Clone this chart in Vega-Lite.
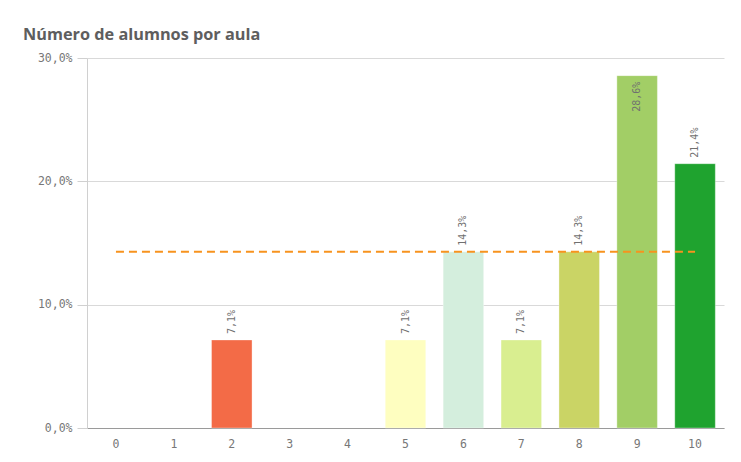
{
  "$schema": "https://vega.github.io/schema/vega-lite/v6.json",
  "width": 637,
  "height": 370,
  "autosize": {"type": "none"},
  "padding": {"left": 87, "top": 58, "right": 17, "bottom": 34},
  "background": "white",
  "config": {
    "view": {"stroke": null},
    "locale": {"number": {"decimal": ",", "thousands": ".", "grouping": [3], "currency": ["", " €"]}}
  },
  "title": {
    "text": "Número de alumnos por aula",
    "anchor": "start",
    "frame": "group",
    "dx": -64,
    "offset": 9,
    "font": "Open Sans",
    "fontSize": 16.3,
    "fontWeight": "bold",
    "color": "#5e5e5e"
  },
  "datasets": {
    "main": [
      {"n": 0, "pct": 0},
      {"n": 1, "pct": 0},
      {"n": 2, "pct": 0.0714},
      {"n": 3, "pct": 0},
      {"n": 4, "pct": 0},
      {"n": 5, "pct": 0.0714},
      {"n": 6, "pct": 0.1429},
      {"n": 7, "pct": 0.0714},
      {"n": 8, "pct": 0.1429},
      {"n": 9, "pct": 0.2857},
      {"n": 10, "pct": 0.2143}
    ],
    "ref": [{"n": 0, "n2": 10, "pct": 0.1429}]
  },
  "layer": [
    {
      "data": {"name": "main"},
      "transform": [{"filter": "datum.pct > 0"}],
      "mark": {"type": "bar", "stroke": "white", "strokeOpacity": 0.35, "strokeWidth": 1},
      "encoding": {
        "x": {
          "field": "n", "type": "ordinal",
          "scale": {"domain": [0, 1, 2, 3, 4, 5, 6, 7, 8, 9, 10], "paddingInner": 0.3, "paddingOuter": 0.15},
          "axis": {
            "title": null, "labelAngle": 0, "ticks": false, "labelPadding": 10,
            "domainColor": "#9a9a9a", "labelFont": "DejaVu Sans Mono", "labelFontSize": 11.5,
            "labelColor": "#777777", "grid": false
          }
        },
        "y": {
          "field": "pct", "type": "quantitative",
          "scale": {"domain": [0, 0.3], "nice": false},
          "axis": {
            "title": null, "format": ".1%", "values": [0, 0.1, 0.2, 0.3],
            "tickSize": 10, "tickColor": "#d0d0d0", "labelPadding": 5,
            "domainColor": "#d0d0d0", "gridColor": "#d9d9d9",
            "labelFont": "DejaVu Sans Mono", "labelFontSize": 11.5, "labelColor": "#777777"
          }
        },
        "color": {
          "field": "n", "type": "ordinal", "legend": null,
          "scale": {
            "domain": [0, 1, 2, 3, 4, 5, 6, 7, 8, 9, 10],
            "range": ["#cccccc", "#cccccc", "#f36b47", "#cccccc", "#cccccc", "#fefec0", "#d4eedd", "#d9ee90", "#cad465", "#a2ce66", "#1fa32f"]
          }
        }
      }
    },
    {
      "data": {"name": "main"},
      "transform": [{"filter": "datum.pct > 0 && datum.pct < 0.25"}],
      "mark": {"type": "text", "angle": -90, "align": "left", "baseline": "middle", "dx": 6,
               "font": "DejaVu Sans Mono", "fontSize": 10, "color": "#707070"},
      "encoding": {
        "x": {"field": "n", "type": "ordinal"},
        "y": {"field": "pct", "type": "quantitative"},
        "text": {"field": "pct", "type": "quantitative", "format": ".1%"}
      }
    },
    {
      "data": {"name": "main"},
      "transform": [{"filter": "datum.pct >= 0.25"}],
      "mark": {"type": "text", "angle": -90, "align": "right", "baseline": "middle", "dx": -6,
               "font": "DejaVu Sans Mono", "fontSize": 10, "color": "#707070"},
      "encoding": {
        "x": {"field": "n", "type": "ordinal"},
        "y": {"field": "pct", "type": "quantitative"},
        "text": {"field": "pct", "type": "quantitative", "format": ".1%"}
      }
    },
    {
      "data": {"name": "ref"},
      "mark": {"type": "rule", "color": "#f7931e", "strokeWidth": 2, "strokeDash": [8, 5]},
      "encoding": {
        "x": {"field": "n", "type": "ordinal"},
        "x2": {"field": "n2"},
        "y": {"field": "pct", "type": "quantitative"}
      }
    }
  ]
}
